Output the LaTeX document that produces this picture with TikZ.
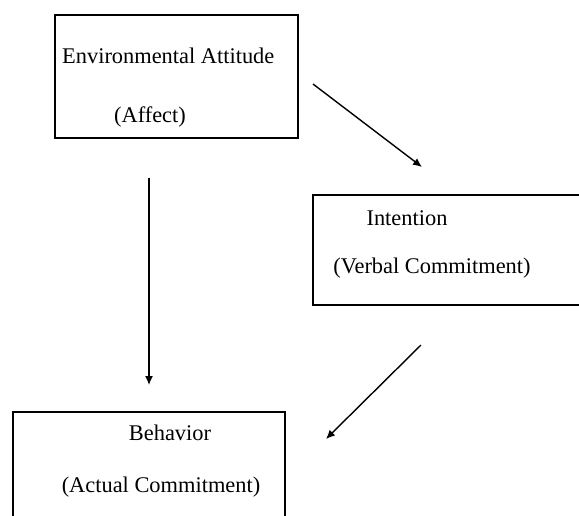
\documentclass[tikz,border=0pt]{standalone}
\usepackage{fontspec}
\setmainfont{Liberation Serif}
\usepackage{tikz}
\usetikzlibrary{arrows.meta}
\usetikzlibrary{positioning}

\tikzset{
  box/.style={line width=1.2pt},
  link/.style={line width=1.4pt, -{Latex[length=9pt,width=8pt]}},
  lbl/.style={anchor=base, inner sep=0pt}
}

\begin{document}
\begin{tikzpicture}[x=1pt,y=-1pt]
\fontsize{22.4}{26}\selectfont
\useasboundingbox (0,0) rectangle (579,515);
\clip (0,0) rectangle (579,515);

% attitude
\draw [box] (55,15) rectangle (298,138);
\node [lbl, anchor=base west] (att) at (62,63) {Environmental Attitude};
\node [lbl] (aff) at (150,122) {(Affect)};

% intention
\draw [box] (313,195) rectangle (600,305);
\node [lbl] (int) at (407,225) {Intention};
\node [lbl] (verb) at (432,273) {(Verbal Commitment)};

% behavior
\draw [box] (13,412) rectangle (285,540);
\node [lbl] (beh) at (170,440) {Behavior};
\node [lbl] (act) at (161,492) {(Actual Commitment)};

% arrows
\coordinate (a1) at (313,84);
\coordinate (a2) at (422,167);
\coordinate (b1) at (149,178);
\coordinate (b2) at (149,385);
\coordinate (c1) at (421,345);
\coordinate (c2) at (326,439);
\draw [link] (a1) -- (a2);
\draw [link] (b1) -- (b2);
\draw [link] (c1) -- (c2);

\end{tikzpicture}
\end{document}
